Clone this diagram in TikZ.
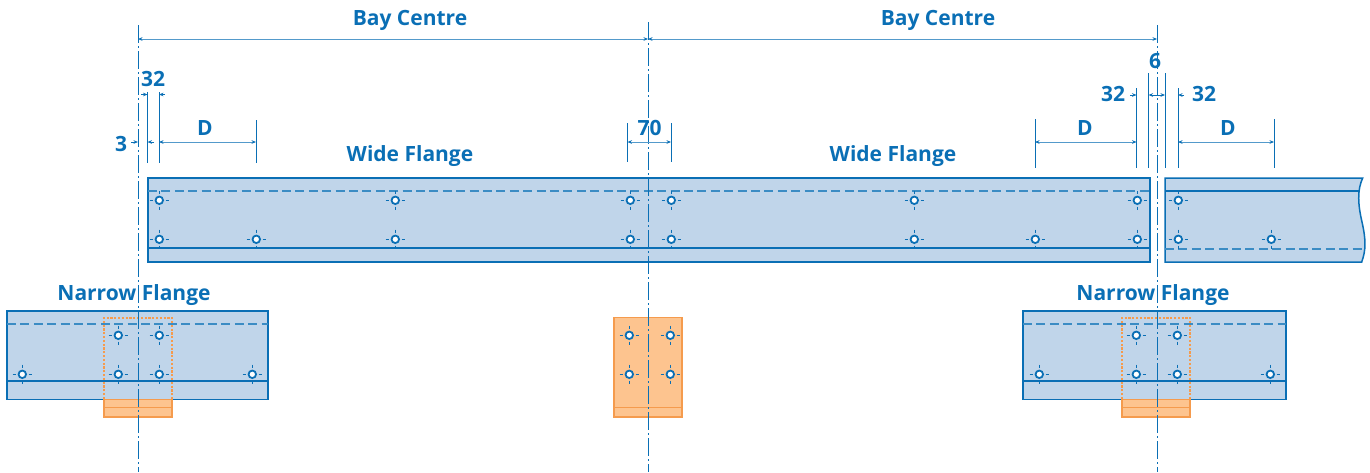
\documentclass[tikz,border=0pt]{standalone}
\usepackage{fontspec}
\setmainfont{Open Sans}
\usetikzlibrary{arrows.meta}
\definecolor{bl}{HTML}{0A6FB5}
\definecolor{blfill}{HTML}{C0D5EA}
\definecolor{orfill}{HTML}{FDC48F}
\definecolor{orline}{HTML}{F59B4D}
\tikzset{
  x=1pt,y=-1pt,
  flange/.style={draw=bl,fill=blfill,line width=1.5pt},
  plate/.style={draw=orline,fill=orfill,line width=1.6pt},
  hidden/.style={draw=bl!80!white,line width=1.2pt,dash pattern=on 9pt off 4.4pt},
  edgeline/.style={draw=bl,line width=1.7pt},
  hiddenplate/.style={draw=orline,line width=1.5pt,dash pattern=on 2.2pt off 1.6pt},
  centreline/.style={draw=bl,line width=1pt,dash pattern=on 18pt off 3pt on 2pt off 3pt},
  extline/.style={draw=bl,line width=1pt},
  dimline/.style={draw=bl!70!white,line width=1pt,{Stealth[length=4.5pt,width=3.6pt,bl]}-{Stealth[length=4.5pt,width=3.6pt,bl]}},
  leader/.style={draw=bl,line width=.8pt,-{Stealth[length=4.5pt,width=3.6pt,bl]}},
  lab/.style={text=bl,font=\fontsize{21}{21}\selectfont\bfseries,inner sep=0pt,anchor=center},
  hole/.style={circle,draw=bl,fill=white,line width=1.8pt,minimum size=7.5pt,inner sep=0pt},
  holetick/.style={draw=bl,line width=.9pt},
}
\newcommand{\hole}[3]{%
  \node[hole] (#1) at (#2+.3,#3+.3) {};
  \draw[holetick] (#2-9.5,#3) -- (#2-6,#3) (#2+6.5,#3) -- (#2+10,#3)
                  (#2,#3-9.5) -- (#2,#3-6) (#2,#3+6.5) -- (#2,#3+10);
}
\begin{document}
\begin{tikzpicture}
\useasboundingbox (0,0) rectangle (1370,472);
% wide flange
\draw[flange] (148,178) rectangle (1150,262);
\draw[hidden] (148,191) -- (1150,191);
\draw[edgeline] (148,248.2) -- (1150,248.2);
% right continuation
\draw[flange] (1165,178) -- (1362.7,178) .. controls (1357,190) and (1358,205) .. (1362,222) .. controls (1366,240) and (1366,250) .. (1361.7,262) -- (1165,262) -- cycle;
\draw[edgeline] (1165,191) -- (1359,191);
\draw[hidden] (1165,249) -- (1362,249);
% narrow flanges
\draw[flange] (7,311) rectangle (268,399.5);
\draw[flange] (1023,311) rectangle (1286,399.5);
\draw[hidden] (7,324) -- (268,324);
\draw[hidden] (1023,324) -- (1286,324);
\draw[edgeline] (7,381.2) -- (268,381.2);
\draw[edgeline] (1023,381.2) -- (1286,381.2);
% plates
\foreach \xa/\xb in {104/172,1122/1190}{
  \draw[plate] (\xa,399.5) rectangle (\xb,417);
  \draw[draw=orline,line width=1.2pt] (\xa,407.5) -- (\xb,407.5);
  \draw[hiddenplate] (\xa,399) -- (\xa,318) -- (\xb,318) -- (\xb,399);
}
\draw[plate] (614,317.5) rectangle (682,417);
\draw[draw=orline,line width=1.2pt] (614,407.5) -- (682,407.5);
% holes
\hole{wa}{159}{200}\hole{wb}{395}{200}\hole{wc}{630}{200}\hole{wd}{671}{200}\hole{we}{914}{200}\hole{wf}{1137}{200}
\hole{xa}{159}{239}\hole{xb}{256}{239}\hole{xc}{395}{239}\hole{xd}{630}{239}\hole{xe}{671}{239}\hole{xf}{914}{239}\hole{xg}{1035}{239}\hole{xh}{1137}{239}
\hole{ya}{1178}{200}\hole{yb}{1178}{239}\hole{yc}{1271}{239}
\hole{na}{118}{335}\hole{nb}{159}{335}\hole{nc}{22}{374}\hole{nd}{118}{374}\hole{ne}{159}{374}\hole{nf}{252}{374}
\hole{pa}{629}{335}\hole{pb}{670}{335}\hole{pc}{629}{374}\hole{pd}{670}{374}
\hole{ra}{1136}{335}\hole{rb}{1177}{335}\hole{rc}{1039}{374}\hole{rd}{1136}{374}\hole{re}{1177}{374}\hole{rf}{1270}{374}
% centre lines
\coordinate (c1t) at (138,25); \coordinate (c1b) at (138,472);
\coordinate (c2t) at (648,22); \coordinate (c2b) at (648,472);
\coordinate (c3t) at (1157,25); \coordinate (c3b) at (1157,472);
\draw[centreline] (c1t) -- (c1b);
\draw[centreline] (c2t) -- (c2b);
\draw[centreline] (c3t) -- (c3b);
% bay dims
\coordinate (b1) at (138,39); \coordinate (b2) at (648,39); \coordinate (b3) at (1157,39);
\draw[dimline] (b1) -- (b2);
\draw[dimline] (b2) -- (b3);
% extension lines
\foreach \n/\x/\ya/\yb in {e1/147.5/92/163,e2/159/92/163,e3/256/120/163,e4/627.5/123/162,e5/671/123/162,e6/1035/119/168,e7/1136.5/88/168,e8/1148.5/73/168,e9/1165/73/168,e10/1178/88/168,e11/1274/119/168}{
  \coordinate (\n t) at (\x,\ya);
  \coordinate (\n b) at (\x,\yb);
  \draw[extline] (\n t) -- (\n b);
}
% D and 70 dims
\coordinate (d1a) at (159,142); \coordinate (d1b) at (256,142);
\coordinate (d2a) at (627.5,142); \coordinate (d2b) at (671,142);
\coordinate (d3a) at (1035,142); \coordinate (d3b) at (1136.5,142);
\coordinate (d4a) at (1178,142); \coordinate (d4b) at (1274,142);
\draw[dimline] (d1a) -- (d1b);
\draw[dimline] (d2a) -- (d2b);
\draw[dimline] (d3a) -- (d3b);
\draw[dimline] (d4a) -- (d4b);
% leaders 32 left
\coordinate (l1) at (141,94.5); \coordinate (l2) at (147.5,94.5);
\coordinate (l3) at (165,94.5); \coordinate (l4) at (159,94.5);
\draw[leader] (l1) -- (l2); \draw[leader] (l3) -- (l4);
% leaders 3
\coordinate (l5) at (131,142); \coordinate (l6) at (138,142);
\coordinate (l7) at (154,142); \coordinate (l8) at (147.5,142);
\draw[leader] (l5) -- (l6); \draw[leader] (l7) -- (l8);
% leaders right
\coordinate (l9) at (1130,95); \coordinate (l10) at (1136.5,95);
\coordinate (l11) at (1184,95); \coordinate (l12) at (1178,95);
\draw[leader] (l9) -- (l10); \draw[leader] (l11) -- (l12);
\coordinate (l13) at (1157,95); \coordinate (l14) at (1148.5,95); \coordinate (l15) at (1165,95);
\draw[leader] (l13) -- (l14); \draw[leader] (l13) -- (l15);
% labels
\node[lab] (t1) at (410,20) {Bay Centre};
\node[lab] (t2) at (938,20) {Bay Centre};
\node[lab] (t3) at (153,79) {32};
\node[lab] (t4) at (121,144) {3};
\node[lab] (t5) at (205,128) {D};
\node[lab] (t6) at (649.5,128) {70};
\node[lab] (t7) at (410,156) {Wide Flange};
\node[lab] (t8) at (893,156) {Wide Flange};
\node[lab] (t9) at (1085,128) {D};
\node[lab] (t10) at (1228,128) {D};
\node[lab] (t11) at (1113,94) {32};
\node[lab] (t12) at (1204,94) {32};
\node[lab] (t13) at (1155,61) {6};
\node[lab] (t14) at (134,295) {Narrow Flange};
\node[lab] (t15) at (1153,295) {Narrow Flange};
\end{tikzpicture}
\end{document}
